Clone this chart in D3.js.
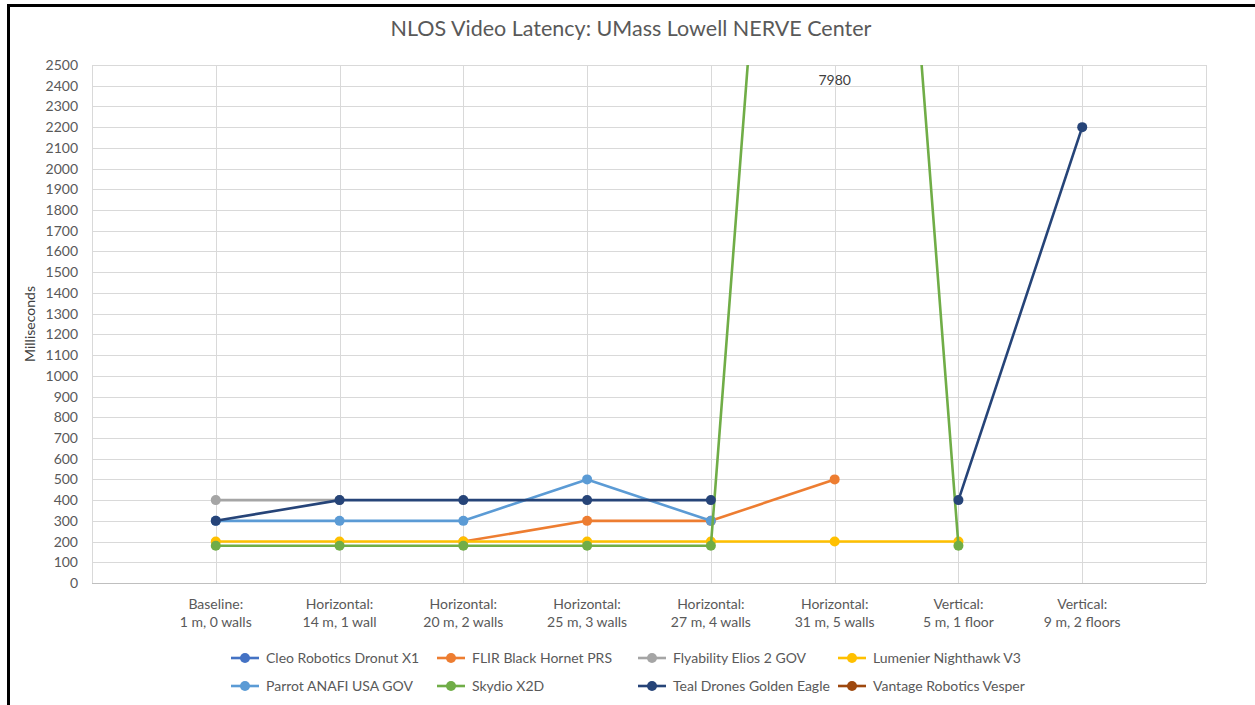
<!DOCTYPE html>
<html>
<head>
<meta charset="utf-8">
<script src="https://cdn.jsdelivr.net/npm/d3@7"></script>
<style>
  html, body { margin: 0; padding: 0; background: #fff; }
  svg { display: block; font-family: Lato, "Open Sans", sans-serif; }
</style>
</head>
<body>
<svg id="chart" width="1255" height="705"></svg>
<script>
// categories (two-line labels)
const categories = [
    ["Baseline:", "1 m, 0 walls"],
    ["Horizontal:", "14 m, 1 wall"],
    ["Horizontal:", "20 m, 2 walls"],
    ["Horizontal:", "25 m, 3 walls"],
    ["Horizontal:", "27 m, 4 walls"],
    ["Horizontal:", "31 m, 5 walls"],
    ["Vertical:", "5 m, 1 floor"],
    ["Vertical:", "9 m, 2 floors"]
];

const seriesNames = [
    "Cleo Robotics Dronut X1", "FLIR Black Hornet PRS", "Flyability Elios 2 GOV", "Lumenier Nighthawk V3",
    "Parrot ANAFI USA GOV", "Skydio X2D", "Teal Drones Golden Eagle", "Vantage Robotics Vesper"
];
const seriesColors = ["#4472C4", "#ED7D31", "#A5A5A5", "#FFC000", "#5B9BD5", "#70AD47", "#264478", "#9E480E"];

// latency values in ms (null = no measurement)
const cleoValues = [null, null, null, null, null, null, null, null];
const flirValues = [null, null, 200, 300, 300, 500, null, null];
const flyabilityValues = [400, 400, null, null, null, null, null, null];
const lumenierValues = [200, 200, 200, 200, 200, 200, 200, null];
const parrotValues = [300, 300, 300, 500, 300, null, null, null];
const skydioValues = [180, 180, 180, 180, 180, 7980, 180, null];
const tealValues = [300, 400, 400, 400, 400, null, 400, 2200];
const vantageValues = [null, null, null, null, null, null, null, null];

const allValues = [cleoValues, flirValues, flyabilityValues, lumenierValues,
    parrotValues, skydioValues, tealValues, vantageValues];

const yTicks = d3.range(0, 2501, 100);

const svg = d3.select("#chart");
const margin = { top: 65, left: 92, right: 1206, bottom: 583 };

// frame edges of the screenshot
svg.append("line").attr("x1", 8).attr("x2", 1255).attr("y1", 5.5).attr("y2", 5.5)
    .attr("stroke", "#000").attr("stroke-width", 3);
svg.append("line").attr("x1", 8.5).attr("x2", 8.5).attr("y1", 4).attr("y2", 705)
    .attr("stroke", "#000").attr("stroke-width", 3);

const idx = d3.range(categories.length);
const x = d3.scalePoint().domain(idx).range([margin.left, margin.right]).padding(1);
const y = d3.scaleLinear().domain([0, 2500]).range([margin.bottom, margin.top]);

// title
svg.append("text")
    .attr("x", 631).attr("y", 36)
    .attr("text-anchor", "middle")
    .attr("font-size", "21.5px")
    .attr("fill", "#595959")
    .text("NLOS Video Latency: UMass Lowell NERVE Center");

// horizontal gridlines
svg.append("g").selectAll("line").data(yTicks).enter().append("line")
    .attr("x1", margin.left).attr("x2", margin.right)
    .attr("y1", d => Math.round(y(d)) + 0.5).attr("y2", d => Math.round(y(d)) + 0.5)
    .attr("stroke", "#d9d9d9").attr("stroke-width", 1);

// vertical gridlines at each category and at both edges
const vLines = [margin.left].concat(idx.map(i => x(i)), [margin.right]);
svg.append("g").selectAll("line").data(vLines).enter().append("line")
    .attr("x1", d => Math.round(d) + 0.5).attr("x2", d => Math.round(d) + 0.5)
    .attr("y1", margin.top).attr("y2", margin.bottom)
    .attr("stroke", "#d9d9d9").attr("stroke-width", 1);

// x axis base
svg.append("line").attr("x1", margin.left).attr("x2", margin.right)
    .attr("y1", margin.bottom + 0.5).attr("y2", margin.bottom + 0.5)
    .attr("stroke", "#bfbfbf").attr("stroke-width", 1);

// y axis
const yAxis = d3.axisLeft(y).tickValues(yTicks).tickFormat(d3.format("d")).tickSize(0).tickPadding(14);
const yAxisGroup = svg.append("g").attr("transform", `translate(${margin.left},0)`).call(yAxis);
yAxisGroup.select(".domain").remove();
yAxisGroup.selectAll("text")
    .style("font-size", "14px")
    .style("font-family", "Lato, 'Open Sans', sans-serif")
    .attr("fill", "#595959");

// y axis title
svg.append("text")
    .attr("transform", "translate(35,324) rotate(-90)")
    .attr("text-anchor", "middle")
    .attr("font-size", "14px")
    .attr("fill", "#404040")
    .text("Milliseconds");

// x labels
const xLab = svg.append("g").selectAll("text").data(idx).enter().append("text")
    .attr("text-anchor", "middle")
    .attr("font-size", "14px")
    .attr("fill", "#595959");
xLab.append("tspan").attr("x", d => x(d)).attr("y", 609).text(d => categories[d][0]);
xLab.append("tspan").attr("x", d => x(d)).attr("y", 627).text(d => categories[d][1]);

// plot clip
svg.append("clipPath").attr("id", "plotClip").append("rect")
    .attr("x", margin.left).attr("y", margin.top)
    .attr("width", margin.right - margin.left).attr("height", margin.bottom - margin.top);

const line = d3.line()
    .defined(d => d.v !== null)
    .x(d => x(d.i))
    .y(d => y(d.v));

const plot = svg.append("g").attr("clip-path", "url(#plotClip)");

allValues.forEach((vals, s) => {
    const pts = vals.map((v, i) => ({ i: i, v: v }));
    const g = plot.append("g");
    g.append("path")
        .datum(pts)
        .attr("fill", "none")
        .attr("stroke", seriesColors[s])
        .attr("stroke-width", 2.6)
        .attr("stroke-linejoin", "round")
        .attr("d", line);
    g.selectAll("circle").data(pts.filter(d => d.v !== null)).enter().append("circle")
        .attr("cx", d => x(d.i))
        .attr("cy", d => y(d.v))
        .attr("r", 5)
        .attr("fill", seriesColors[s]);
});

// data label for the off-scale Skydio value
skydioValues.forEach((v, i) => {
    if (v !== null && v > 2500) {
        svg.append("text")
            .attr("x", x(i)).attr("y", 85)
            .attr("text-anchor", "middle")
            .attr("font-size", "14px")
            .attr("fill", "#404040")
            .text(v);
    }
});

// legend
const legendCols = [231, 437, 638, 838];
const legendRows = [658, 686];
const legend = svg.append("g").selectAll("g").data(seriesNames).enter().append("g")
    .attr("transform", (d, i) => `translate(${legendCols[i % 4]},${legendRows[Math.floor(i / 4)]})`);
legend.append("line")
    .attr("x1", 0).attr("x2", 28).attr("y1", 0).attr("y2", 0)
    .attr("stroke", (d, i) => seriesColors[i]).attr("stroke-width", 2.6);
legend.append("circle")
    .attr("cx", 14).attr("cy", 0).attr("r", 5)
    .attr("fill", (d, i) => seriesColors[i]);
legend.append("text")
    .attr("x", 35).attr("y", 5)
    .attr("font-size", "14px")
    .attr("fill", "#595959")
    .text(d => d);
</script>
</body>
</html>
